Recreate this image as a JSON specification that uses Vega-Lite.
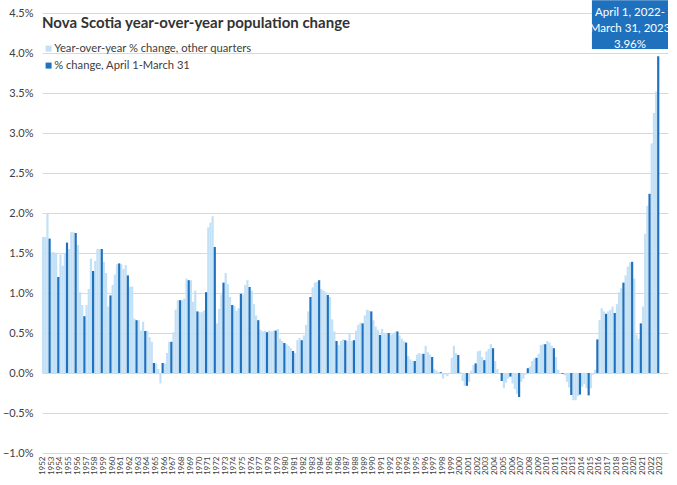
{
  "$schema": "https://vega.github.io/schema/vega-lite/v6.json",
  "width": 626,
  "height": 440,
  "autosize": "none",
  "padding": {"left": 42, "top": 13, "right": 9, "bottom": 32},
  "background": "white",
  "config": {
    "font": "Lato",
    "view": {"stroke": null},
    "axis": {"labelFont": "Lato", "labelColor": "#404040", "title": null}
  },
  "title": {
    "text": "Nova Scotia year-over-year population change",
    "anchor": "start",
    "frame": "group",
    "offset": -43,
    "baseline": "alphabetic",
    "font": "Lato",
    "fontSize": 15,
    "fontWeight": "bold",
    "color": "#333333"
  },
  "data": {"values": [
    {"year":1952,"q1":1.70,"q2":1.70,"q3":2.00,"annual":1.68},
    {"year":1953,"q1":1.51,"q2":1.51,"q3":1.50,"annual":1.20},
    {"year":1954,"q1":1.48,"q2":1.34,"q3":1.50,"annual":1.63},
    {"year":1955,"q1":1.55,"q2":1.76,"q3":1.76,"annual":1.75},
    {"year":1956,"q1":1.60,"q2":1.01,"q3":0.85,"annual":0.71},
    {"year":1957,"q1":0.85,"q2":1.05,"q3":1.43,"annual":1.275},
    {"year":1958,"q1":1.40,"q2":1.55,"q3":1.55,"annual":1.55},
    {"year":1959,"q1":1.39,"q2":1.25,"q3":0.83,"annual":0.97},
    {"year":1960,"q1":1.10,"q2":1.23,"q3":1.36,"annual":1.37},
    {"year":1961,"q1":1.36,"q2":1.30,"q3":1.35,"annual":1.22},
    {"year":1962,"q1":1.08,"q2":1.08,"q3":0.68,"annual":0.66},
    {"year":1963,"q1":0.66,"q2":0.53,"q3":0.64,"annual":0.525},
    {"year":1964,"q1":0.53,"q2":0.45,"q3":0.39,"annual":0.125},
    {"year":1965,"q1":0.12,"q2":0.05,"q3":-0.13,"annual":0.125},
    {"year":1966,"q1":0.12,"q2":0.25,"q3":0.39,"annual":0.39},
    {"year":1967,"q1":0.51,"q2":0.79,"q3":0.91,"annual":0.91},
    {"year":1968,"q1":0.91,"q2":0.93,"q3":1.18,"annual":1.16},
    {"year":1969,"q1":1.16,"q2":0.89,"q3":1.03,"annual":0.77},
    {"year":1970,"q1":0.76,"q2":0.76,"q3":0.78,"annual":1.01},
    {"year":1971,"q1":1.82,"q2":1.88,"q3":1.96,"annual":1.575},
    {"year":1972,"q1":0.62,"q2":0.80,"q3":0.98,"annual":1.13},
    {"year":1973,"q1":1.25,"q2":1.11,"q3":0.95,"annual":0.85},
    {"year":1974,"q1":0.84,"q2":0.78,"q3":0.81,"annual":0.99},
    {"year":1975,"q1":0.98,"q2":1.10,"q3":1.16,"annual":1.075},
    {"year":1976,"q1":1.03,"q2":0.86,"q3":0.72,"annual":0.66},
    {"year":1977,"q1":0.54,"q2":0.52,"q3":0.53,"annual":0.51},
    {"year":1978,"q1":0.53,"q2":0.52,"q3":0.53,"annual":0.53},
    {"year":1979,"q1":0.55,"q2":0.43,"q3":0.40,"annual":0.375},
    {"year":1980,"q1":0.36,"q2":0.34,"q3":0.31,"annual":0.275},
    {"year":1981,"q1":0.25,"q2":0.41,"q3":0.44,"annual":0.41},
    {"year":1982,"q1":0.47,"q2":0.60,"q3":0.77,"annual":0.95},
    {"year":1983,"q1":1.07,"q2":1.13,"q3":1.14,"annual":1.16},
    {"year":1984,"q1":1.05,"q2":1.03,"q3":1.01,"annual":0.975},
    {"year":1985,"q1":0.95,"q2":0.67,"q3":0.52,"annual":0.40},
    {"year":1986,"q1":0.35,"q2":0.40,"q3":0.42,"annual":0.41},
    {"year":1987,"q1":0.40,"q2":0.50,"q3":0.40,"annual":0.41},
    {"year":1988,"q1":0.53,"q2":0.60,"q3":0.63,"annual":0.62},
    {"year":1989,"q1":0.72,"q2":0.79,"q3":0.78,"annual":0.77},
    {"year":1990,"q1":0.66,"q2":0.58,"q3":0.54,"annual":0.475},
    {"year":1991,"q1":0.55,"q2":0.50,"q3":0.50,"annual":0.50},
    {"year":1992,"q1":0.48,"q2":0.50,"q3":0.51,"annual":0.52},
    {"year":1993,"q1":0.47,"q2":0.43,"q3":0.40,"annual":0.38},
    {"year":1994,"q1":0.21,"q2":0.17,"q3":0.15,"annual":0.15},
    {"year":1995,"q1":0.23,"q2":0.25,"q3":0.24,"annual":0.24},
    {"year":1996,"q1":0.34,"q2":0.26,"q3":0.23,"annual":0.20},
    {"year":1997,"q1":0.05,"q2":0.03,"q3":0.01,"annual":0.01},
    {"year":1998,"q1":-0.07,"q2":-0.02,"q3":-0.04,"annual":0.00},
    {"year":1999,"q1":0.19,"q2":0.34,"q3":0.25,"annual":0.225},
    {"year":2000,"q1":0.01,"q2":-0.10,"q3":-0.16,"annual":-0.16},
    {"year":2001,"q1":-0.11,"q2":0.03,"q3":0.10,"annual":0.12},
    {"year":2002,"q1":0.27,"q2":0.28,"q3":0.20,"annual":0.16},
    {"year":2003,"q1":0.27,"q2":0.30,"q3":0.36,"annual":0.31},
    {"year":2004,"q1":0.15,"q2":0.05,"q3":0.00,"annual":-0.10},
    {"year":2005,"q1":-0.19,"q2":-0.12,"q3":-0.07,"annual":-0.045},
    {"year":2006,"q1":-0.13,"q2":-0.20,"q3":-0.26,"annual":-0.30},
    {"year":2007,"q1":-0.11,"q2":-0.07,"q3":-0.02,"annual":0.06},
    {"year":2008,"q1":0.08,"q2":0.15,"q3":0.18,"annual":0.19},
    {"year":2009,"q1":0.24,"q2":0.35,"q3":0.36,"annual":0.36},
    {"year":2010,"q1":0.40,"q2":0.38,"q3":0.34,"annual":0.31},
    {"year":2011,"q1":0.20,"q2":0.04,"q3":0.00,"annual":-0.01},
    {"year":2012,"q1":-0.03,"q2":-0.11,"q3":-0.18,"annual":-0.275},
    {"year":2013,"q1":-0.34,"q2":-0.34,"q3":-0.29,"annual":-0.27},
    {"year":2014,"q1":-0.17,"q2":-0.14,"q3":-0.19,"annual":-0.28},
    {"year":2015,"q1":-0.19,"q2":-0.02,"q3":0.04,"annual":0.42},
    {"year":2016,"q1":0.66,"q2":0.81,"q3":0.77,"annual":0.74},
    {"year":2017,"q1":0.77,"q2":0.79,"q3":0.83,"annual":0.75},
    {"year":2018,"q1":0.86,"q2":1.01,"q3":1.06,"annual":1.13},
    {"year":2019,"q1":1.22,"q2":1.33,"q3":1.38,"annual":1.39},
    {"year":2020,"q1":1.18,"q2":0.48,"q3":0.43,"annual":0.62},
    {"year":2021,"q1":0.83,"q2":1.74,"q3":2.09,"annual":2.24},
    {"year":2022,"q1":2.87,"q2":3.25,"q3":3.52,"annual":3.96}
  ]},
  "layer": [
    {
      "transform": [{"fold": ["q1", "q2", "q3"], "as": ["quarter", "pct"]}],
      "mark": {"type": "bar"},
      "encoding": {
        "x": {
          "field": "year", "type": "ordinal",
          "scale": {"domain": [1952,1953,1954,1955,1956,1957,1958,1959,1960,1961,1962,1963,1964,1965,1966,1967,1968,1969,1970,1971,1972,1973,1974,1975,1976,1977,1978,1979,1980,1981,1982,1983,1984,1985,1986,1987,1988,1989,1990,1991,1992,1993,1994,1995,1996,1997,1998,1999,2000,2001,2002,2003,2004,2005,2006,2007,2008,2009,2010,2011,2012,2013,2014,2015,2016,2017,2018,2019,2020,2021,2022,2023], "paddingInner": 0, "paddingOuter": 0},
          "axis": {"labelAngle": 270, "labelFontSize": 8, "labelPadding": 3, "labelOffset": -3.3, "ticks": false, "domain": false, "grid": false, "labelOverlap": false, "labelBound": false}
        },
        "xOffset": {"field": "quarter", "type": "nominal", "scale": {"domain": ["q1", "q2", "q3", "annual"], "paddingInner": 0, "paddingOuter": 0}},
        "y": {
          "field": "pct", "type": "quantitative",
          "scale": {"domain": [-1, 4.5], "nice": false},
          "axis": {"values": [-1,-0.5,0,0.5,1,1.5,2,2.5,3,3.5,4,4.5], "tickCount": 24, "labelExpr": "format(datum.value, '.1f') + '%'", "labelFontSize": 11, "labelPadding": 9, "labelOverlap": false, "ticks": false, "domain": false, "gridColor": "#D9D9D9"}
        },
        "color": {
          "datum": "Year-over-year % change, other quarters", "type": "nominal",
          "scale": {"domain": ["Year-over-year % change, other quarters", "% change, April 1-March 31"], "range": ["#C2E0F6", "#1F71BE"]},
          "legend": {"orient": "none", "legendX": 1, "legendY": 30, "title": null, "symbolType": "square", "symbolSize": 36, "symbolStrokeWidth": 0, "labelFontSize": 11.2, "labelColor": "#404040", "labelFont": "Lato", "labelLimit": 0, "rowPadding": 5, "labelOffset": 0, "padding": 0}
        }
      }
    },
    {
      "transform": [{"fold": ["annual"], "as": ["quarter", "pct"]}],
      "mark": {"type": "bar"},
      "encoding": {
        "x": {"field": "year", "type": "ordinal"},
        "xOffset": {"field": "quarter", "type": "nominal"},
        "y": {"field": "pct", "type": "quantitative", "axis": {"values": [-1,-0.5,0,0.5,1,1.5,2,2.5,3,3.5,4,4.5], "tickCount": 24, "labelExpr": "format(datum.value, '.1f') + '%'", "labelFontSize": 11, "labelPadding": 9, "labelOverlap": false, "ticks": false, "domain": false, "gridColor": "#D9D9D9"}},
        "color": {"datum": "% change, April 1-March 31", "type": "nominal"}
      }
    },
    {
      "data": {"values": [{"label": "April 1, 2022-\nMarch 31, 2023\n3.96%"}]},
      "mark": {"type": "rect", "color": "#1F71BE"},
      "encoding": {
        "x": {"datum": 2015, "type": "ordinal", "bandPosition": 0.25},
        "x2": {"datum": 2023, "bandPosition": 1},
        "y": {"datum": 4.66, "type": "quantitative", "axis": {"values": [-1,-0.5,0,0.5,1,1.5,2,2.5,3,3.5,4,4.5], "tickCount": 24, "labelExpr": "format(datum.value, '.1f') + '%'", "labelFontSize": 11, "labelPadding": 9, "labelOverlap": false, "ticks": false, "domain": false, "gridColor": "#D9D9D9"}},
        "y2": {"datum": 4.05}
      }
    },
    {
      "data": {"values": [{"label": "April 1, 2022-\nMarch 31, 2023\n3.96%"}]},
      "mark": {"type": "text", "color": "white", "font": "Lato", "fontSize": 11.5, "lineBreak": "\n", "lineHeight": 16, "baseline": "middle", "align": "center"},
      "encoding": {
        "x": {"datum": 2019, "type": "ordinal", "bandPosition": 0.63},
        "y": {"datum": 4.505, "type": "quantitative", "axis": {"values": [-1,-0.5,0,0.5,1,1.5,2,2.5,3,3.5,4,4.5], "tickCount": 24, "labelExpr": "format(datum.value, '.1f') + '%'", "labelFontSize": 11, "labelPadding": 9, "labelOverlap": false, "ticks": false, "domain": false, "gridColor": "#D9D9D9"}},
        "text": {"field": "label"}
      }
    }
  ]
}
